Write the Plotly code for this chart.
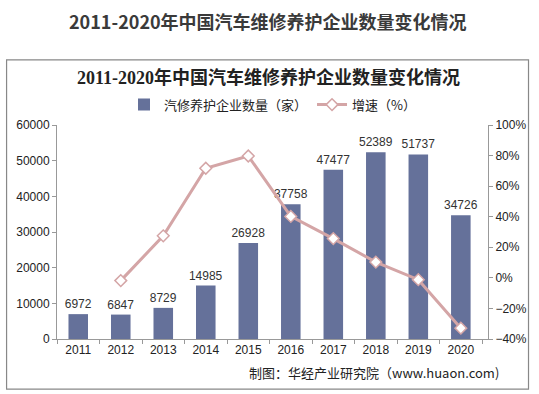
import plotly.graph_objects as go

years = ["2011", "2012", "2013", "2014", "2015", "2016", "2017", "2018", "2019", "2020"]
counts = [6972, 6847, 8729, 14985, 26928, 37758, 47477, 52389, 51737, 34726]
growth_years = ["2012", "2013", "2014", "2015", "2016", "2017", "2018", "2019", "2020"]
growth = [-1.8, 27.5, 71.7, 79.7, 40.2, 25.7, 10.3, -1.2, -32.9]

bar_color = "#65719a"
line_color = "#d4a5a6"
font_fam = "Liberation Sans, Arial, Noto Sans CJK SC, sans-serif"

fig = go.Figure()
fig.add_trace(go.Bar(
    x=years, y=counts, name="汽修养护企业数量（家）",
    marker=dict(color=bar_color, line=dict(width=0)),
    text=[str(v) for v in counts], textposition="outside",
    textfont=dict(size=12, color="#333333", family=font_fam),
    constraintext="none",
    cliponaxis=False,
))
fig.add_trace(go.Scatter(
    x=growth_years, y=growth, name="增速（%）", yaxis="y2",
    mode="lines+markers",
    line=dict(color=line_color, width=3),
    marker=dict(symbol="diamond", size=9, color="white",
                line=dict(color=line_color, width=1.5)),
))

fig.update_layout(
    width=539, height=394,
    margin=dict(l=57, r=47, t=125, b=55),
    paper_bgcolor="white", plot_bgcolor="white",
    font=dict(family=font_fam, size=12, color="#333333"),
    showlegend=True,
    bargap=0.54,
    legend=dict(orientation="h", x=0.5, xanchor="center", y=1.095, yanchor="middle",
                font=dict(size=13, color="#222222", family="Noto Sans CJK SC, sans-serif"),
                itemwidth=30, tracegroupgap=0, bgcolor="rgba(0,0,0,0)"),
    xaxis=dict(type="category", showgrid=False, showline=True, linecolor="#999999",
               ticks="outside", ticklen=4, tickcolor="#999999",
               tickson="boundaries",
               tickfont=dict(size=12, color="#222222"), fixedrange=True),
    yaxis=dict(range=[0, 60000], dtick=10000, showgrid=False, showline=True,
               linecolor="#999999", ticks="outside", ticklen=4, tickcolor="#999999",
               tickfont=dict(size=12, color="#222222"), zeroline=False,
               tickformat="d"),
    yaxis2=dict(range=[-40, 100], dtick=20, overlaying="y", side="right",
                showgrid=False, showline=True, linecolor="#999999",
                ticks="outside", ticklen=4, tickcolor="#999999", ticksuffix="%",
                tickfont=dict(size=12, color="#222222"), zeroline=False),
    shapes=[dict(type="rect", xref="paper", yref="paper",
                 x0=-0.117, x1=1.094, y0=-0.234, y1=1.304,
                 line=dict(color="#888888", width=1.2), fillcolor="rgba(0,0,0,0)", layer="below")],
    annotations=[
        dict(text="<b>2011-2020年中国汽车维修养护企业数量变化情况</b>", xref="paper", yref="paper",
             x=0.49, y=1.485, xanchor="center", yanchor="middle", showarrow=False,
             font=dict(size=18, color="#3a3a3a", family="Noto Sans CJK SC, sans-serif")),
        dict(text="<b>2011-2020年中国汽车维修养护企业数量变化情况</b>", xref="paper", yref="paper",
             x=0.49, y=1.22, xanchor="center", yanchor="middle", showarrow=False,
             font=dict(size=18, color="#222222", family="Liberation Serif, Noto Sans CJK SC, serif")),
        dict(text="制图：华经产业研究院（www.huaon.com)", xref="paper", yref="paper",
             x=1.03, y=-0.155, xanchor="right", yanchor="middle", showarrow=False,
             font=dict(size=13, color="#222222", family="Noto Sans CJK SC, sans-serif")),
    ],
)

fig.write_html("out.html", config={"displayModeBar": False},
               post_script="document.body.style.margin='0';document.body.style.overflow='hidden';")
